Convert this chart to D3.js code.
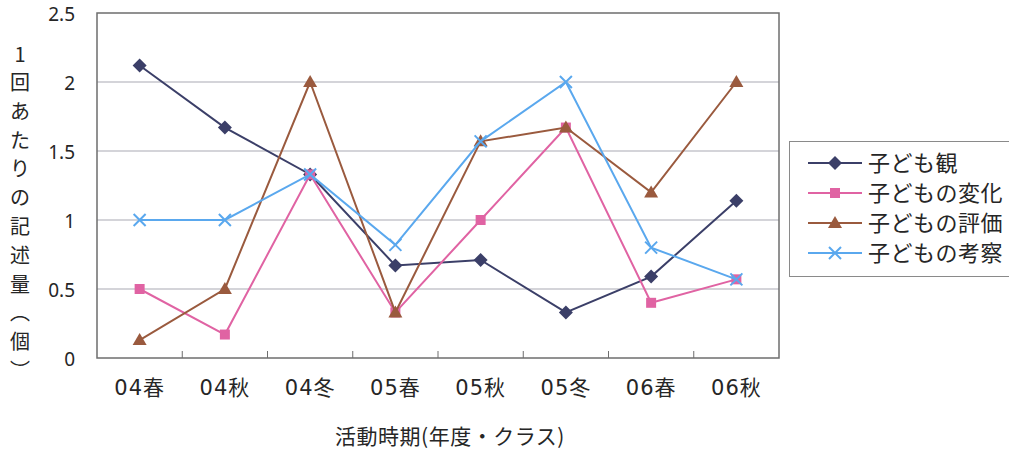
<!DOCTYPE html>
<html>
<head>
<meta charset="utf-8">
<script src="https://cdn.jsdelivr.net/npm/d3@7"></script>
<style>
  html, body { margin: 0; padding: 0; background: #fff; }
  svg { display: block; }
  text { font-family: "Noto Sans CJK JP", "Noto Sans", sans-serif; fill: #262626; }
</style>
</head>
<body>
<svg id="chart" width="1009" height="451"></svg>
<script>
// Activity periods (year + class)
const categories = ["04春", "04秋", "04冬", "05春", "05秋", "05冬", "06春", "06秋"];

// Average number of written items per session, by theme
const kodomokan = [2.12, 1.67, 1.33, 0.67, 0.71, 0.33, 0.59, 1.14];
const henka     = [0.5, 0.17, 1.33, 0.33, 1.0, 1.67, 0.4, 0.57];
const hyoka     = [0.13, 0.5, 2.0, 0.33, 1.57, 1.67, 1.2, 2.0];
const kousatsu  = [1.0, 1.0, 1.33, 0.82, 1.57, 2.0, 0.8, 0.57];

const seriesNames = ["子ども観", "子どもの変化", "子どもの評価", "子どもの考察"];
const yTicks = [0, 0.5, 1, 1.5, 2, 2.5];
const yTitleChars = ["1", "回", "あ", "た", "り", "の", "記", "述", "量", "︵", "個", "︶"];
const xTitle = "活動時期(年度・クラス)";

const series = [
  { name: seriesNames[0], values: kodomokan, color: "#3b3f68", symbol: "diamond" },
  { name: seriesNames[1], values: henka,     color: "#e063a3", symbol: "square" },
  { name: seriesNames[2], values: hyoka,     color: "#9a5a3e", symbol: "triangle" },
  { name: seriesNames[3], values: kousatsu,  color: "#5aa8ee", symbol: "cross" }
];

const svg = d3.select("#chart");
const plot = { left: 97, right: 779, top: 13, bottom: 358 };

const x = d3.scaleBand().domain(categories).range([plot.left, plot.right]);
const y = d3.scaleLinear().domain([0, 2.5]).range([plot.bottom, plot.top]);
const cx = c => x(c) + x.bandwidth() / 2;

// Horizontal grid lines
svg.append("g")
  .selectAll("line")
  .data(yTicks.filter(t => t > 0 && t < 2.5))
  .join("line")
  .attr("x1", plot.left).attr("x2", plot.right)
  .attr("y1", d => y(d)).attr("y2", d => y(d))
  .attr("stroke", "#a9a9b4").attr("stroke-width", 1.2);

// Plot frame
svg.append("rect")
  .attr("x", plot.left).attr("y", plot.top)
  .attr("width", plot.right - plot.left).attr("height", plot.bottom - plot.top)
  .attr("fill", "none").attr("stroke", "#6e6e6e").attr("stroke-width", 1.5);

// Y axis labels
const yAxis = d3.axisLeft(y).tickValues(yTicks).tickSize(0).tickPadding(0).tickFormat(d3.format(""));
const gy = svg.append("g").attr("transform", `translate(${plot.left - 22},0)`).call(yAxis);
gy.select(".domain").remove();
gy.selectAll("text").attr("font-size", 19).attr("dy", "0.4em")
  .style("font-family", "\"Noto Sans\", sans-serif").style("fill", "#262626");

// X axis: category labels and inner boundary ticks
const xAxis = d3.axisBottom(x).tickSize(0).tickPadding(0);
const gx = svg.append("g").attr("transform", `translate(0,${plot.bottom + 28})`).call(xAxis);
gx.select(".domain").remove();
gx.selectAll("text").attr("font-size", 21).attr("dy", "0.45em").attr("letter-spacing", 1)
  .style("font-family", "\"DejaVu Sans\", \"Noto Sans CJK JP\", sans-serif")
  .style("fill", "#262626");

svg.append("g")
  .selectAll("line")
  .data(categories.slice(1))
  .join("line")
  .attr("x1", d => x(d)).attr("x2", d => x(d))
  .attr("y1", plot.bottom).attr("y2", plot.bottom - 7)
  .attr("stroke", "#6e6e6e").attr("stroke-width", 1);

// Axis titles
svg.append("text")
  .attr("x", 450).attr("y", 444)
  .attr("text-anchor", "middle").attr("font-size", 21).attr("letter-spacing", 0.5)
  .text(xTitle);

svg.append("g")
  .selectAll("text")
  .data(yTitleChars)
  .join("text")
  .attr("x", 20)
  .attr("y", (d, i) => i === 0 ? 62 : 90 + (i - 1) * 28.8)
  .attr("text-anchor", "middle").attr("font-size", 20)
  .text(d => d);

// Marker drawing helper
function drawMarker(g, s, px, py) {
  let d;
  if (s.symbol === "cross") {
    const r = 6;
    g.append("path")
      .attr("d", `M${px - r},${py - r}L${px + r},${py + r}M${px - r},${py + r}L${px + r},${py - r}`)
      .attr("stroke", s.color).attr("stroke-width", 2).attr("fill", "none");
    return;
  }
  if (s.symbol === "diamond") {
    const r = 7;
    d = `M${px},${py - r}L${px + r},${py}L${px},${py + r}L${px - r},${py}Z`;
  } else if (s.symbol === "square") {
    const r = 5;
    d = `M${px - r},${py - r}H${px + r}V${py + r}H${px - r}Z`;
  } else {
    const r = 7;
    d = `M${px},${py - r}L${px + r},${py + 5}L${px - r},${py + 5}Z`;
  }
  g.append("path").attr("d", d).attr("fill", s.color);
}

// Series lines and markers
const line = d3.line().x((d, i) => cx(categories[i])).y(d => y(d));
series.forEach(s => {
  const g = svg.append("g");
  g.append("path")
    .attr("d", line(s.values))
    .attr("fill", "none").attr("stroke", s.color).attr("stroke-width", 2);
  s.values.forEach((v, i) => drawMarker(g, s, cx(categories[i]), y(v)));
});

// Legend
const legend = svg.append("g");
legend.append("rect")
  .attr("x", 789.5).attr("y", 141.5).attr("width", 240).attr("height", 135)
  .attr("fill", "#fff").attr("stroke", "#8a8a8a").attr("stroke-width", 1);
series.forEach((s, i) => {
  const ly = 163 + i * 30;
  const g = legend.append("g");
  g.append("line")
    .attr("x1", 808).attr("x2", 862).attr("y1", ly).attr("y2", ly)
    .attr("stroke", s.color).attr("stroke-width", 2);
  drawMarker(g, s, 835, ly);
  g.append("text")
    .attr("x", 868).attr("y", ly).attr("dy", "0.36em")
    .attr("font-size", 22).attr("letter-spacing", 0.5)
    .text(s.name);
});
</script>
</body>
</html>
